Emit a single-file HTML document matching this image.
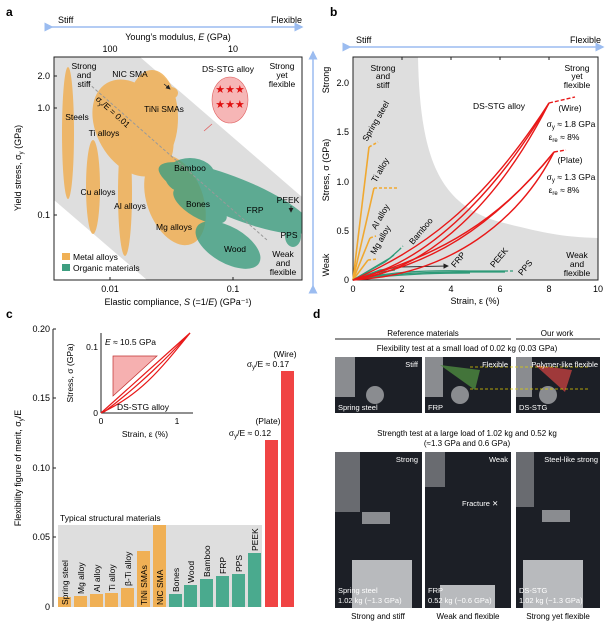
<!DOCTYPE html>
<html><head><meta charset="utf-8"><style>
body{margin:0;background:#fff}
svg{display:block;font-family:"Liberation Sans",sans-serif}
</style></head><body>
<svg width="616" height="622" viewBox="0 0 616 622" xmlns="http://www.w3.org/2000/svg">
<defs>
<marker id="ab" markerWidth="6" markerHeight="6" refX="5" refY="3" orient="auto"><path d="M0,0 L6,3 L0,6 z" fill="#9bbcf0"/></marker>
<marker id="ak" markerWidth="6" markerHeight="6" refX="5" refY="3" orient="auto"><path d="M0,0 L6,3 L0,6 z" fill="#222"/></marker>
</defs>
<!-- ===== Panel a ===== -->
<text x="6" y="16" font-size="12" font-weight="bold">a</text>
<line x1="52" y1="27" x2="302" y2="27" stroke="#9bbcf0" stroke-width="1.5" marker-end="url(#ab)" marker-start="url(#ab)"/>
<text x="58" y="23" font-size="9">Stiff</text>
<text x="302" y="23" font-size="9" text-anchor="end">Flexible</text>
<text x="178" y="40" font-size="9" text-anchor="middle">Young’s modulus, <tspan font-style="italic">E</tspan> (GPa)</text>
<text x="110" y="52" font-size="9" text-anchor="middle">100</text>
<text x="233" y="52" font-size="9" text-anchor="middle">10</text>
<clipPath id="ca"><rect x="54" y="57" width="248" height="223"/></clipPath>
<g clip-path="url(#ca)">
<polygon points="54,57 140,57 302,197 302,280 147,280 54,200" fill="#dedede"/>
<g fill="#f0b055" opacity="0.85">
<ellipse cx="68" cy="133" rx="6" ry="66"/>
<ellipse cx="93" cy="187" rx="7" ry="47"/>
<ellipse cx="125" cy="193" rx="7" ry="63"/>
<ellipse cx="133" cy="128" rx="36" ry="52" transform="rotate(-30 133 128)"/>
<ellipse cx="152" cy="118" rx="26" ry="48"/>
<ellipse cx="171" cy="93" rx="7" ry="6"/>
<ellipse cx="175" cy="200" rx="28" ry="47" transform="rotate(-20 175 200)"/>
</g>
<g fill="#3e9e80" opacity="0.8">
<ellipse cx="235" cy="198" rx="82" ry="20" transform="rotate(22 235 198)"/>
<ellipse cx="190" cy="176" rx="25" ry="18"/>
<ellipse cx="200" cy="205" rx="30" ry="13" transform="rotate(30 200 205)"/>
<ellipse cx="228" cy="245" rx="36" ry="18" transform="rotate(30 228 245)"/>
<ellipse cx="291" cy="218" rx="5" ry="4"/>
<ellipse cx="293" cy="236" rx="8" ry="11"/>
</g>
<line x1="88" y1="83" x2="267" y2="240" stroke="#999" stroke-width="1" stroke-dasharray="3,2"/>
</g>
<rect x="54" y="57" width="248" height="223" fill="none" stroke="#222" stroke-width="1"/>
<ellipse cx="230" cy="100" rx="18" ry="23" fill="#f6b6b6" stroke="#e06060" stroke-width="0.6"/>
<text x="230" y="93" font-size="11" fill="#e01010" text-anchor="middle">★★★</text>
<text x="230" y="108" font-size="11" fill="#e01010" text-anchor="middle">★★★</text>
<line x1="212" y1="124" x2="204" y2="131" stroke="#e06060" stroke-width="0.8"/>
<g font-size="8.5" text-anchor="middle">
<text x="84" y="69">Strong</text><text x="84" y="78">and</text><text x="84" y="87">stiff</text>
<text x="228" y="72">DS-STG alloy</text>
<text x="282" y="69">Strong</text><text x="282" y="78">yet</text><text x="282" y="87">flexible</text>
<text x="130" y="77">NIC SMA</text>
<text x="164" y="112">TiNi SMAs</text>
<text x="77" y="120">Steels</text>
<text x="104" y="136">Ti alloys</text>
<text x="190" y="171">Bamboo</text>
<text x="98" y="195">Cu alloys</text>
<text x="130" y="209">Al alloys</text>
<text x="198" y="207">Bones</text>
<text x="255" y="213">FRP</text>
<text x="288" y="203">PEEK</text>
<text x="174" y="230">Mg alloys</text>
<text x="235" y="252">Wood</text>
<text x="289" y="238">PPS</text>
<text x="283" y="257">Weak</text><text x="283" y="266">and</text><text x="283" y="275">flexible</text>
</g>
<text x="111" y="114" font-size="8.5" transform="rotate(42 111 114)" text-anchor="middle">σ<tspan font-size="6" dy="2">y</tspan><tspan dy="-2">/E = 0.01</tspan></text>
<line x1="164" y1="84" x2="170" y2="89" stroke="#222" stroke-width="0.8" marker-end="url(#ak)"/>
<line x1="291" y1="206" x2="291" y2="212" stroke="#222" stroke-width="0.8" marker-end="url(#ak)"/>
<rect x="62" y="253" width="8" height="7" fill="#f0b055"/>
<text x="73" y="260" font-size="8.5">Metal alloys</text>
<rect x="62" y="264" width="8" height="7" fill="#3e9e80"/>
<text x="73" y="271" font-size="8.5">Organic materials</text>
<g font-size="9" text-anchor="end">
<text x="50" y="79">2.0</text><text x="50" y="111">1.0</text><text x="50" y="218">0.1</text>
</g>
<g stroke="#222"><line x1="54" y1="76" x2="57" y2="76"/><line x1="54" y1="108" x2="57" y2="108"/><line x1="54" y1="215" x2="57" y2="215"/>
<line x1="110" y1="280" x2="110" y2="277"/><line x1="233" y1="280" x2="233" y2="277"/></g>
<text x="21" y="168" font-size="9" text-anchor="middle" transform="rotate(-90 21 168)">Yield stress, σ<tspan font-size="6" dy="2">y</tspan><tspan dy="-2"> (GPa)</tspan></text>
<text x="110" y="292" font-size="9" text-anchor="middle">0.01</text>
<text x="233" y="292" font-size="9" text-anchor="middle">0.1</text>
<text x="178" y="305" font-size="9" text-anchor="middle">Elastic compliance, <tspan font-style="italic">S</tspan> (=1/<tspan font-style="italic">E</tspan>) (GPa⁻¹)</text>

<!-- ===== Panel b ===== -->
<text x="330" y="16" font-size="12" font-weight="bold">b</text>
<line x1="350" y1="47" x2="603" y2="47" stroke="#9bbcf0" stroke-width="1.5" marker-end="url(#ab)" marker-start="url(#ab)"/>
<text x="356" y="43" font-size="9">Stiff</text>
<text x="601" y="43" font-size="9" text-anchor="end">Flexible</text>
<line x1="313" y1="286" x2="313" y2="52" stroke="#9bbcf0" stroke-width="1.5" marker-end="url(#ab)" marker-start="url(#ab)"/>
<text x="329" y="80" font-size="9" text-anchor="middle" transform="rotate(-90 329 80)">Strong</text>
<text x="329" y="265" font-size="9" text-anchor="middle" transform="rotate(-90 329 265)">Weak</text>
<text x="329" y="170" font-size="9" text-anchor="middle" transform="rotate(-90 329 170)">Stress, σ (GPa)</text>
<path d="M353,57 L418,57 C420,160 440,205 500,222 C540,232 560,237 598,238 L598,280 L353,280 Z" fill="#dedede"/>
<rect x="353" y="57" width="245" height="223" fill="none" stroke="#222"/>
<g font-size="9" text-anchor="end">
<text x="349" y="283">0</text><text x="349" y="234">0.5</text><text x="349" y="185">1.0</text><text x="349" y="135">1.5</text><text x="349" y="86">2.0</text>
</g>
<g font-size="9" text-anchor="middle">
<text x="353" y="292">0</text><text x="402" y="292">2</text><text x="451" y="292">4</text><text x="500" y="292">6</text><text x="549" y="292">8</text><text x="598" y="292">10</text>
<text x="475" y="304">Strain, ε (%)</text>
</g>
<g stroke="#222"><line x1="402" y1="57" x2="402" y2="60"/><line x1="451" y1="57" x2="451" y2="60"/><line x1="500" y1="57" x2="500" y2="60"/><line x1="549" y1="57" x2="549" y2="60"/></g>
<!-- orange -->
<g stroke="#f0a830" stroke-width="1.6" fill="none">
<polyline points="353,280 369,147"/><polyline points="369,147 378,142" stroke-dasharray="3,2"/>
<polyline points="353,280 374,188"/><polyline points="374,188 397,188" stroke-dasharray="3,2"/>
<polyline points="353,280 370,238"/><polyline points="370,238 376,236" stroke-dasharray="3,2"/>
<polyline points="353,280 368,260"/><polyline points="368,260 378,259" stroke-dasharray="3,2"/>
</g>
<!-- green -->
<g stroke="#2e9a78" stroke-width="1.3" fill="none">
<path d="M353,280 L390,258 L399,250"/><path d="M399,250 L403,246" stroke-dasharray="3,2"/>
<path d="M353,280 L385,262 L394,255"/>
<path d="M353,280 L380,270 L400,267"/>
<path d="M353,280 L375,273 L395,270"/>
<path d="M353,280 C390,272 420,270 470,271 L505,271"/><path d="M505,271 L515,271" stroke-dasharray="3,2"/>
<path d="M353,280 C390,273 430,272 470,272 L505,272"/>
<path d="M353,280 C395,274 440,273 470,273"/>
</g>
<line x1="400" y1="267" x2="448" y2="266" stroke="#333" stroke-width="0.9" marker-end="url(#ak)"/>
<!-- red -->
<g stroke="#e81818" stroke-width="1.4" fill="none">
<path d="M353,280 C420,250 480,210 549,103"/>
<path d="M353,280 C430,270 500,200 549,103"/>
<path d="M355,279 C440,260 510,170 549,103"/>
<path d="M353,280 C430,265 490,230 554,152"/>
<path d="M353,280 C450,275 520,220 554,152"/>
<path d="M360,278 C440,255 500,220 554,152"/>
<path d="M549,103 L575,97" stroke-dasharray="4,2"/>
<path d="M554,152 L566,150" stroke-dasharray="4,2"/>
</g>
<g font-size="8.5" text-anchor="middle">
<text x="383" y="71">Strong</text><text x="383" y="79">and</text><text x="383" y="88">stiff</text>
<text x="577" y="71">Strong</text><text x="577" y="79">yet</text><text x="577" y="88">flexible</text>
<text x="499" y="109">DS-STG alloy</text>
<text x="570" y="111">(Wire)</text>
<text x="571" y="127">σ<tspan font-size="6" dy="2">y</tspan><tspan dy="-2"> ≈ 1.8 GPa</tspan></text>
<text x="564" y="140">ε<tspan font-size="6" dy="2">re</tspan><tspan dy="-2"> ≈ 8%</tspan></text>
<text x="570" y="163">(Plate)</text>
<text x="571" y="180">σ<tspan font-size="6" dy="2">y</tspan><tspan dy="-2"> ≈ 1.3 GPa</tspan></text>
<text x="564" y="193">ε<tspan font-size="6" dy="2">re</tspan><tspan dy="-2"> ≈ 8%</tspan></text>
<text x="577" y="258">Weak</text><text x="577" y="267">and</text><text x="577" y="276">flexible</text>
</g>
<g font-size="8.5">
<text transform="translate(367,142) rotate(-60)">Spring steel</text>
<text transform="translate(376,183) rotate(-60)">Ti alloy</text>
<text transform="translate(376,230) rotate(-60)">Al alloy</text>
<text transform="translate(375,255) rotate(-60)">Mg alloy</text>
<text transform="translate(413,245) rotate(-50)">Bamboo</text>
<text transform="translate(455,268) rotate(-50)">FRP</text>
<text transform="translate(494,268) rotate(-50)">PEEK</text>
<text transform="translate(522,276) rotate(-50)">PPS</text>
</g>

<!-- ===== Panel c ===== -->
<text x="6" y="318" font-size="12" font-weight="bold">c</text>
<rect x="58" y="525" width="204" height="82" fill="#dedede"/>
<text x="60" y="521" font-size="8.5">Typical structural materials</text>
<line x1="53" y1="329" x2="53" y2="607" stroke="#222"/>
<g stroke="#222"><line x1="53" y1="329" x2="56" y2="329"/><line x1="53" y1="398" x2="56" y2="398"/><line x1="53" y1="468" x2="56" y2="468"/><line x1="53" y1="537" x2="56" y2="537"/></g>
<g font-size="9" text-anchor="end">
<text x="50" y="332">0.20</text><text x="50" y="401">0.15</text><text x="50" y="471">0.10</text><text x="50" y="540">0.05</text><text x="50" y="610">0</text>
</g>
<text x="21" y="468" font-size="9" text-anchor="middle" transform="rotate(-90 21 468)">Flexibility figure of merit, σ<tspan font-size="6" dy="2">y</tspan><tspan dy="-2">/E</tspan></text>
<g fill="#f0b055">
<rect x="58" y="597" width="13" height="10"/><rect x="74" y="596" width="13" height="11"/><rect x="90" y="594" width="13" height="13"/><rect x="105" y="593" width="13" height="14"/><rect x="121" y="588" width="13" height="19"/><rect x="137" y="551" width="13" height="56"/><rect x="153" y="525" width="13" height="82"/>
</g>
<g fill="#4aaa8e">
<rect x="169" y="594" width="13" height="13"/><rect x="184" y="585" width="13" height="22"/><rect x="200" y="579" width="13" height="28"/><rect x="216" y="576" width="13" height="31"/><rect x="232" y="574" width="13" height="33"/><rect x="248" y="553" width="13" height="54"/>
</g>
<rect x="265" y="440" width="13" height="167" fill="#f04444"/>
<rect x="281" y="371" width="13" height="236" fill="#f04444"/>
<g font-size="8.5">
<text transform="translate(68,605) rotate(-90)">Spring steel</text>
<text transform="translate(84,594) rotate(-90)">Mg alloy</text>
<text transform="translate(100,592) rotate(-90)">Al alloy</text>
<text transform="translate(115,591) rotate(-90)">Ti alloy</text>
<text transform="translate(131,586) rotate(-90)">β-Ti alloy</text>
<text transform="translate(147,605) rotate(-90)">TiNi SMAs</text>
<text transform="translate(163,605) rotate(-90)">NIC SMA</text>
<text transform="translate(179,592) rotate(-90)">Bones</text>
<text transform="translate(194,583) rotate(-90)">Wood</text>
<text transform="translate(210,577) rotate(-90)">Bamboo</text>
<text transform="translate(226,574) rotate(-90)">FRP</text>
<text transform="translate(242,572) rotate(-90)">PPS</text>
<text transform="translate(258,551) rotate(-90)">PEEK</text>
</g>
<g font-size="8.5" text-anchor="middle">
<text x="285" y="357">(Wire)</text>
<text x="268" y="367">σ<tspan font-size="6" dy="2">y</tspan><tspan dy="-2">/E ≈ 0.17</tspan></text>
<text x="268" y="424">(Plate)</text>
<text x="250" y="436">σ<tspan font-size="6" dy="2">y</tspan><tspan dy="-2">/E ≈ 0.12</tspan></text>
</g>
<!-- inset -->
<line x1="101" y1="333" x2="101" y2="413" stroke="#222"/>
<line x1="101" y1="413" x2="193" y2="413" stroke="#222"/>
<polygon points="113,356 157,356 113,396" fill="#f6b0b0" stroke="#c03030" stroke-width="0.7"/>
<g stroke="#e81818" stroke-width="1.2" fill="none">
<path d="M101,413 L190,333"/><path d="M101,413 C140,395 160,370 190,333"/><path d="M104,412 C140,385 170,355 186,337"/>
</g>
<text x="105" y="345" font-size="8.5"><tspan font-style="italic">E</tspan> ≈ 10.5 GPa</text>
<text x="117" y="410" font-size="8.5">DS-STG alloy</text>
<text x="98" y="350" font-size="8.5" text-anchor="end">0.1</text>
<text x="98" y="416" font-size="8.5" text-anchor="end">0</text>
<text x="101" y="424" font-size="8.5" text-anchor="middle">0</text>
<text x="177" y="424" font-size="8.5" text-anchor="middle">1</text>
<text x="145" y="437" font-size="8.5" text-anchor="middle">Strain, ε (%)</text>
<text x="73" y="373" font-size="8.5" text-anchor="middle" transform="rotate(-90 73 373)">Stress, σ (GPa)</text>

<!-- ===== Panel d ===== -->
<text x="313" y="318" font-size="12" font-weight="bold">d</text>
<text x="423" y="336" font-size="8" text-anchor="middle">Reference materials</text>
<text x="557" y="336" font-size="8" text-anchor="middle">Our work</text>
<line x1="335" y1="339" x2="511" y2="339" stroke="#222"/>
<line x1="516" y1="339" x2="600" y2="339" stroke="#222"/>
<text x="467" y="351" font-size="8" text-anchor="middle">Flexibility test at a small load of 0.02 kg (0.03 GPa)</text>
<g fill="#1c1f26">
<rect x="335" y="357" width="87" height="56"/><rect x="425" y="357" width="86" height="56"/><rect x="516" y="357" width="84" height="56"/>
<rect x="335" y="452" width="87" height="156"/><rect x="425" y="452" width="86" height="156"/><rect x="516" y="452" width="84" height="156"/>
</g>
<g fill="#8a8c90">
<rect x="335" y="357" width="20" height="40"/><rect x="425" y="357" width="18" height="40"/><rect x="516" y="357" width="16" height="40"/>
<rect x="335" y="452" width="25" height="60" opacity="0.7"/><rect x="425" y="452" width="20" height="35" opacity="0.7"/><rect x="516" y="452" width="18" height="55" opacity="0.7"/>
<rect x="352" y="560" width="60" height="48" fill="#b8babd"/><rect x="440" y="585" width="55" height="23" fill="#b8babd"/><rect x="523" y="560" width="60" height="48" fill="#b8babd"/>
<circle cx="375" cy="395" r="9"/><circle cx="460" cy="395" r="9"/><circle cx="548" cy="395" r="9"/>
<rect x="362" y="512" width="28" height="12"/><rect x="542" y="510" width="28" height="12"/>
</g>
<polygon points="440,365 480,370 475,390" fill="#4e8a40" opacity="0.8"/>
<polygon points="535,365 572,370 565,392" fill="#c04040" opacity="0.8"/>
<line x1="470" y1="367" x2="590" y2="367" stroke="#e0d000" stroke-dasharray="3,2" stroke-width="0.8"/>
<line x1="470" y1="389" x2="590" y2="389" stroke="#e0d000" stroke-dasharray="3,2" stroke-width="0.8"/>
<g font-size="7.5" fill="#fff">
<text x="418" y="367" text-anchor="end">Stiff</text>
<text x="508" y="367" text-anchor="end">Flexible</text>
<text x="598" y="367" text-anchor="end">Polymer-like flexible</text>
<text x="338" y="410">Spring steel</text>
<text x="428" y="410">FRP</text>
<text x="519" y="410">DS-STG</text>
<text x="418" y="462" text-anchor="end">Strong</text>
<text x="508" y="462" text-anchor="end">Weak</text>
<text x="598" y="462" text-anchor="end">Steel-like strong</text>
<text x="462" y="506">Fracture ✕</text>
<text x="338" y="593">Spring steel</text><text x="338" y="603">1.02 kg (~1.3 GPa)</text>
<text x="428" y="593">FRP</text><text x="428" y="603">0.52 kg (~0.6 GPa)</text>
<text x="519" y="593">DS-STG</text><text x="519" y="603">1.02 kg (~1.3 GPa)</text>
</g>
<text x="467" y="436" font-size="8" text-anchor="middle">Strength test at a large load of 1.02 kg and 0.52 kg</text>
<text x="467" y="446" font-size="8" text-anchor="middle">(≈1.3 GPa and 0.6 GPa)</text>
<g font-size="8" text-anchor="middle">
<text x="378" y="619">Strong and stiff</text>
<text x="468" y="619">Weak and flexible</text>
<text x="558" y="619">Strong yet flexible</text>
</g>
</svg>
</body></html>
